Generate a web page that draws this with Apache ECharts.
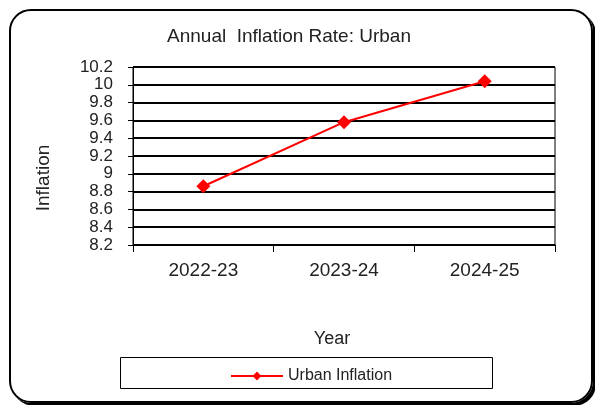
<!DOCTYPE html>
<html>
<head>
<meta charset="utf-8">
<script src="https://cdn.jsdelivr.net/npm/echarts@6/dist/echarts.min.js"></script>
<style>
html,body{margin:0;padding:0;background:#fff;}
#frame{position:absolute;left:9px;top:9px;width:580px;height:390px;border:2px solid #000;border-radius:22px;box-shadow:3px 3px 0 #000;}
#chart{position:absolute;left:0;top:0;width:595px;height:405px;}
</style>
</head>
<body>
<div id="frame"></div>
<div id="chart"></div>
<script>
const categories = ['2022-23', '2023-24', '2024-25'];
const urbanInflation = [8.86, 9.58, 10.04];
const seriesName = 'Urban Inflation';
const titleText = 'Annual  Inflation Rate: Urban';

const chart = echarts.init(document.getElementById('chart'), null, {renderer: 'canvas'});
const font = 'Liberation Sans, Arial, sans-serif';
chart.setOption({
  animation: false,
  title: {
    text: titleText, left: 284, top: 22, textAlign: 'center',
    textStyle: {fontFamily: font, fontSize: 19, fontWeight: 'normal', color: '#222'}
  },
  grid: {left: 133, right: 40, top: 67, bottom: 160, show: true, borderColor: '#000', borderWidth: 1},
  legend: {
    data: [seriesName], left: 225, top: 363, itemWidth: 52, itemHeight: 11, itemGap: 5,
    textStyle: {fontFamily: font, fontSize: 16, color: '#222', padding: [0,0,0,0]}
  },
  graphic: [{
    type: 'rect', shape: {x: 120.5, y: 357.5, width: 372, height: 31},
    style: {fill: 'none', stroke: '#000', lineWidth: 1}, z: -1
  }],
  xAxis: {
    type: 'category', data: categories, boundaryGap: true,
    name: 'Year', nameLocation: 'middle', nameGap: 85,
    nameTextStyle: {fontFamily: font, fontSize: 18, color: '#222', padding: [0, 24, 0, 0]},
    axisLine: {lineStyle: {color: '#000', width: 1}},
    axisTick: {show: true, length: 7, lineStyle: {color: '#000'}},
    axisLabel: {fontFamily: font, fontSize: 19, color: '#222', margin: 16},
    splitLine: {show: false}
  },
  yAxis: {
    type: 'value', min: 8.2, max: 10.2, interval: 0.2,
    name: 'Inflation', nameLocation: 'middle', nameGap: 80, nameRotate: 90,
    nameTextStyle: {fontFamily: font, fontSize: 19, color: '#222', padding: [0, 44, 0, 0]},
    axisLine: {show: true, lineStyle: {color: '#000', width: 1}},
    axisTick: {show: true, length: 5, lineStyle: {color: '#000'}},
    axisLabel: {fontFamily: font, fontSize: 17, lineHeight: 12, color: '#222', margin: 20,
      showMinLabel: true, showMaxLabel: true, hideOverlap: false,
      formatter: v => String(parseFloat(v.toFixed(1)))},
    splitLine: {show: true, lineStyle: {color: '#000', width: 2}}
  },
  series: [{
    name: seriesName, type: 'line', data: urbanInflation,
    symbol: 'diamond', symbolSize: 14,
    lineStyle: {color: '#ff0000', width: 2},
    itemStyle: {color: '#ff0000'}
  }]
});
</script>
</body>
</html>
